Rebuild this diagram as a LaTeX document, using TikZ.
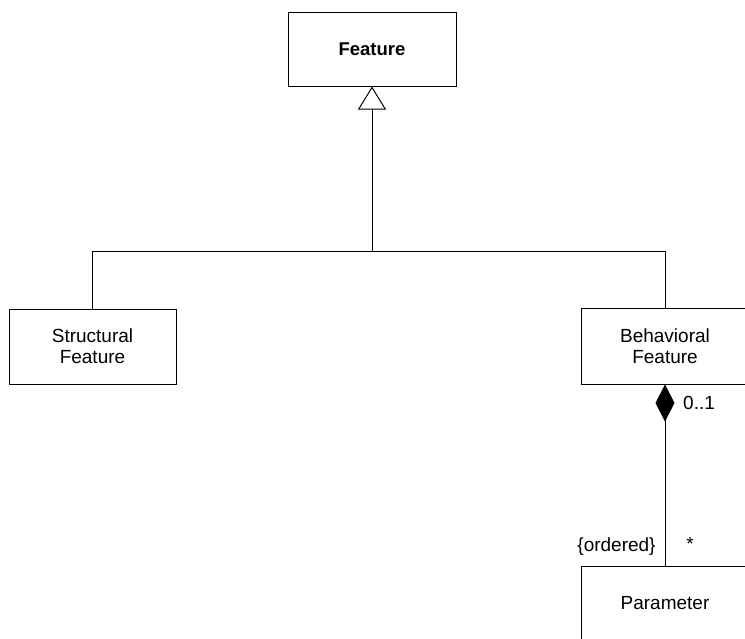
\documentclass[tikz,border=0pt]{standalone}
\usepackage{fontspec}
\setmainfont{Liberation Sans}
\usetikzlibrary{arrows.meta}
\begin{document}
\begin{tikzpicture}[x=1pt,y=1pt,
  cls/.style={draw, line width=1pt, inner sep=0pt, align=center,
              font=\fontsize{19}{21}\selectfont},
  conn/.style={line width=1pt},
  lbl/.style={inner sep=0pt, font=\fontsize{19}{21}\selectfont}]
\useasboundingbox (0,0) rectangle (745,-638);
\clip (0,0) rectangle (745,-638);
\node[cls, minimum width=168pt, minimum height=74pt,
      font=\bfseries\fontsize{18.5}{21}\selectfont] (feat) at (372,-49) {Feature};
\node[cls, minimum width=167pt, minimum height=75pt] (sf) at (92.5,-346.5) {Structural\\Feature};
\node[cls, minimum width=167pt, minimum height=76pt] (bf) at (665,-346) {Behavioral\\Feature};
\node[cls, minimum width=167pt, minimum height=75pt] (par) at (665,-603.5) {Parameter};
\coordinate (hm) at (372,-252);
\draw[conn, -{Triangle[open, length=23pt, width=28pt, line width=1pt]}] (hm) -- (feat.south);
\draw[conn] (sf.north) -- ++(0,57) -| (bf.north);
\draw[conn, {Diamond[length=37pt, width=19pt]}-] (bf.south) -- (par.north);
\node[lbl, anchor=west] (mult) at (683,-403) {0..1};
\node[lbl] (ord) at (616.5,-547) {\{ordered\}};
\node[lbl] (star) at (690,-544) {*};
\end{tikzpicture}
\end{document}
